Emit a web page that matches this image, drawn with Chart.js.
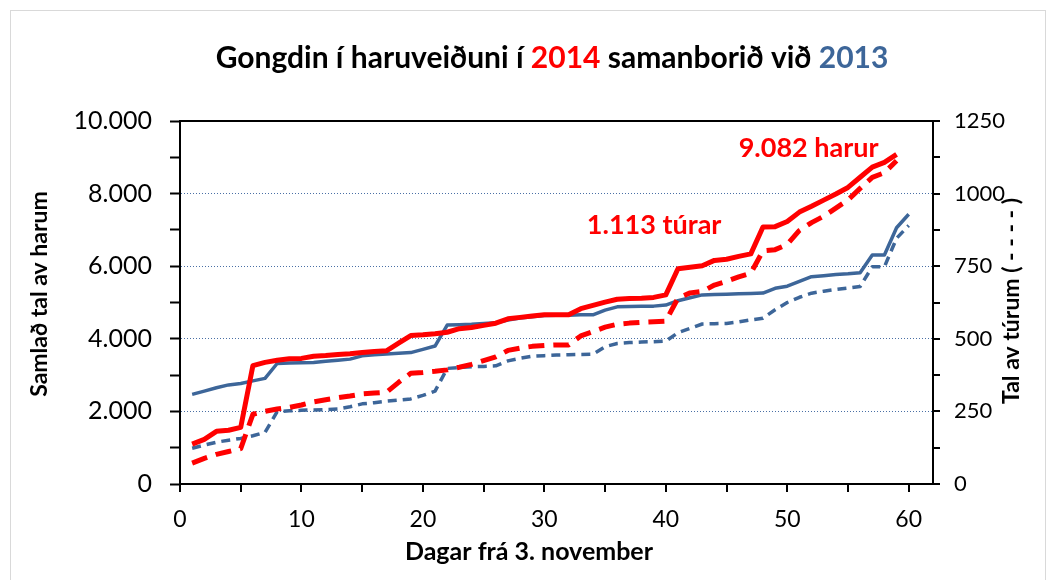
<!DOCTYPE html>
<html>
<head>
<meta charset="utf-8">
<script src="https://cdn.jsdelivr.net/npm/chart.js@4"></script>
<style>
  html, body { margin: 0; padding: 0; background: #fff; }
  #wrap { position: relative; width: 1055px; height: 580px; overflow: hidden; }
  #frame { position: absolute; left: 10px; top: 10px; width: 1036px; height: 600px; border: 1px solid #d9d9d9; box-sizing: border-box; }
  #chart { position: absolute; left: 0; top: 0; }
</style>
</head>
<body>
<div id="wrap">
  <div id="frame"></div>
  <canvas id="chart" width="1055" height="580"></canvas>
</div>
<script>
// Days from 3 November
const days2014 = [1,2,3,4,5,6,7,8,9,10,11,12,13,14,15,16,17,18,19,20,21,22,23,24,25,26,27,28,29,30,
  31,32,33,34,35,36,37,38,39,40,41,42,43,44,45,46,47,48,49,50,51,52,53,54,55,56,57,58,59];
const days2013 = [1,2,3,4,5,6,7,8,9,10,11,12,13,14,15,16,17,18,19,20,21,22,23,24,25,26,27,28,29,30,
  31,32,33,34,35,36,37,38,39,40,41,42,43,44,45,46,47,48,49,50,51,52,53,54,55,56,57,58,59,60];

// Cumulative hares (left axis)
const hares2014 = [1100,1230,1450,1480,1560,3260,3350,3410,3450,3460,3520,3540,3570,3590,3620,3650,3670,3880,4090,4110,
  4140,4180,4280,4310,4370,4430,4550,4590,4630,4660,4660,4660,4830,4920,5010,5090,5110,5120,5140,5210,
  5930,5970,6010,6160,6190,6270,6340,7080,7090,7230,7490,7650,7820,7990,8170,8450,8730,8860,9082];
const hares2013 = [2470,2560,2650,2730,2770,2840,2910,3320,3330,3340,3350,3380,3410,3440,3530,3560,3580,3600,3620,3710,
  3800,4380,4390,4400,4420,4440,4520,4570,4610,4640,4650,4650,4660,4660,4790,4880,4890,4895,4900,4930,
  5050,5130,5210,5220,5230,5240,5250,5260,5390,5450,5580,5710,5740,5770,5790,5820,6310,6310,7060,7430];

// Cumulative trips (right axis)
const trips2014 = [72,88,102,112,122,240,250,258,264,272,283,290,297,303,310,313,316,350,381,384,
  388,393,402,412,425,438,460,468,474,477,479,479,510,525,540,550,554,557,559,561,
  640,658,663,685,698,713,726,803,807,825,873,900,922,950,978,1018,1056,1072,1113];
const trips2013 = [123,134,144,151,157,166,178,249,252,254,255,256,258,266,276,280,285,289,293,305,
  320,398,401,404,405,407,424,433,440,442,444,445,446,447,473,484,487,489,490,492,
  521,536,551,552,553,558,565,571,600,625,643,657,664,670,675,680,748,748,846,890];

// Tick positions
const xTicks = [0,5,10,15,20,25,30,35,40,45,50,55,60];
const leftTicks = [0,1000,2000,3000,4000,5000,6000,7000,8000,9000,10000];
const rightTicks = [0,125,250,375,500,625,750,875,1000,1125,1250];

const RED = '#ff0000';
const BLUE = '#3d6699';
const FONT = 'Lato';

const titleParts = [
  ['Gongdin í haruveiðuni í ', '#000'],
  ['2014', RED],
  [' samanborið við ', '#000'],
  ['2013', BLUE]
];
// text labels placed in data coordinates (day, hares)
const notes = [
  { text: '9.082 harur', day: 46.0, value: 9250 },
  { text: '1.113 túrar', day: 33.5, value: 7135 }
];
const xTitle = 'Dagar frá 3. november';
const leftTitle = 'Samlað tal av harum';
const rightTitle = 'Tal av túrum ( - - - - )';

function pts(xs, ys) {
  return ys.map((v, i) => ({ x: xs[i], y: v }));
}
function dotted(v) {
  return String(v).replace(/\B(?=(\d{3})+(?!\d))/g, '.');
}

const decor = {
  id: 'decor',
  afterDraw(chart) {
    const { ctx, chartArea, scales } = chart;
    ctx.save();
    // top frame line of the plot
    ctx.strokeStyle = '#000';
    ctx.lineWidth = 2;
    ctx.beginPath();
    ctx.moveTo(chartArea.left, chartArea.top);
    ctx.lineTo(chartArea.right, chartArea.top);
    ctx.stroke();

    // multi-coloured title
    ctx.font = 'bold 30px ' + FONT;
    ctx.textBaseline = 'middle';
    ctx.textAlign = 'left';
    const total = titleParts.reduce((s, p) => s + ctx.measureText(p[0]).width, 0);
    let x = 552 - total / 2;
    titleParts.forEach(p => {
      ctx.fillStyle = p[1];
      ctx.fillText(p[0], x, 58);
      x += ctx.measureText(p[0]).width;
    });

    // notes
    ctx.fillStyle = RED;
    ctx.font = 'bold 27px ' + FONT;
    notes.forEach(n => {
      ctx.fillText(n.text, scales.x.getPixelForValue(n.day), scales.y.getPixelForValue(n.value));
    });

    // axis titles
    ctx.fillStyle = '#000';
    ctx.textAlign = 'center';
    ctx.font = 'bold 25px ' + FONT;
    ctx.fillText(xTitle, 529, 552);
    ctx.font = 'bold 23px ' + FONT;
    [[leftTitle, 40, 294], [rightTitle, 1012, 301]].forEach(t => {
      ctx.save();
      ctx.translate(t[1], t[2]);
      ctx.rotate(-Math.PI / 2);
      ctx.fillText(t[0], 0, 0);
      ctx.restore();
    });
    ctx.restore();
  }
};

new Chart(document.getElementById('chart'), {
  type: 'line',
  data: {
    datasets: [
      { label: '2014 harur', data: pts(days2014, hares2014), yAxisID: 'y', borderColor: RED, borderWidth: 5, order: 1 },
      { label: '2014 túrar', data: pts(days2014, trips2014), yAxisID: 'y1', borderColor: RED, borderWidth: 5, borderDash: [16, 9], order: 2 },
      { label: '2013 harur', data: pts(days2013, hares2013), yAxisID: 'y', borderColor: BLUE, borderWidth: 3.5, order: 3 },
      { label: '2013 túrar', data: pts(days2013, trips2013), yAxisID: 'y1', borderColor: BLUE, borderWidth: 3.5, borderDash: [9, 6], order: 4 }
    ]
  },
  options: {
    responsive: false,
    animation: false,
    parsing: false,
    elements: { point: { radius: 0 }, line: { tension: 0, borderCapStyle: 'butt', borderJoinStyle: 'round' } },
    layout: { padding: { top: 121 } },
    plugins: { legend: { display: false }, tooltip: { enabled: false } },
    scales: {
      x: {
        type: 'linear', min: 0, max: 62,
        afterBuildTicks: s => { s.ticks = xTicks.map(v => ({ value: v })); },
        afterFit: s => { s.height = 96; },
        ticks: {
          autoSkip: false, maxRotation: 0, padding: 14, color: '#000',
          font: { family: FONT, size: 23 },
          callback: v => (v % 10 === 0 ? v : '')
        },
        grid: { drawOnChartArea: false, color: '#000', tickLength: 8, lineWidth: 2 },
        border: { color: '#000', width: 2 }
      },
      y: {
        position: 'left', min: 0, max: 10000,
        afterBuildTicks: s => { s.ticks = leftTicks.map(v => ({ value: v })); },
        afterFit: s => { s.width = 180; },
        ticks: {
          autoSkip: false, padding: 18, color: '#000',
          font: { family: FONT, size: 25 },
          callback: v => (v % 2000 === 0 ? dotted(v) : '')
        },
        grid: {
          color: c => (c.tick && c.tick.value > 0 && c.tick.value < 10000 && c.tick.value % 2000 === 0) ? '#4a6fa5' : 'rgba(0,0,0,0)',
          tickColor: '#000', tickLength: 10, lineWidth: 1, tickWidth: 2
        },
        border: { color: '#000', width: 2, dash: [1, 2] }
      },
      y1: {
        position: 'right', min: 0, max: 1250,
        afterBuildTicks: s => { s.ticks = rightTicks.map(v => ({ value: v })); },
        afterFit: s => { s.width = 122; },
        ticks: {
          autoSkip: false, padding: 14, color: '#000',
          font: { family: FONT, size: 22 },
          callback: v => (v % 250 === 0 ? v : '')
        },
        grid: { drawOnChartArea: false, color: '#000', tickLength: 7, lineWidth: 2 },
        border: { color: '#000', width: 2 }
      }
    }
  },
  plugins: [decor]
});
</script>
</body>
</html>
